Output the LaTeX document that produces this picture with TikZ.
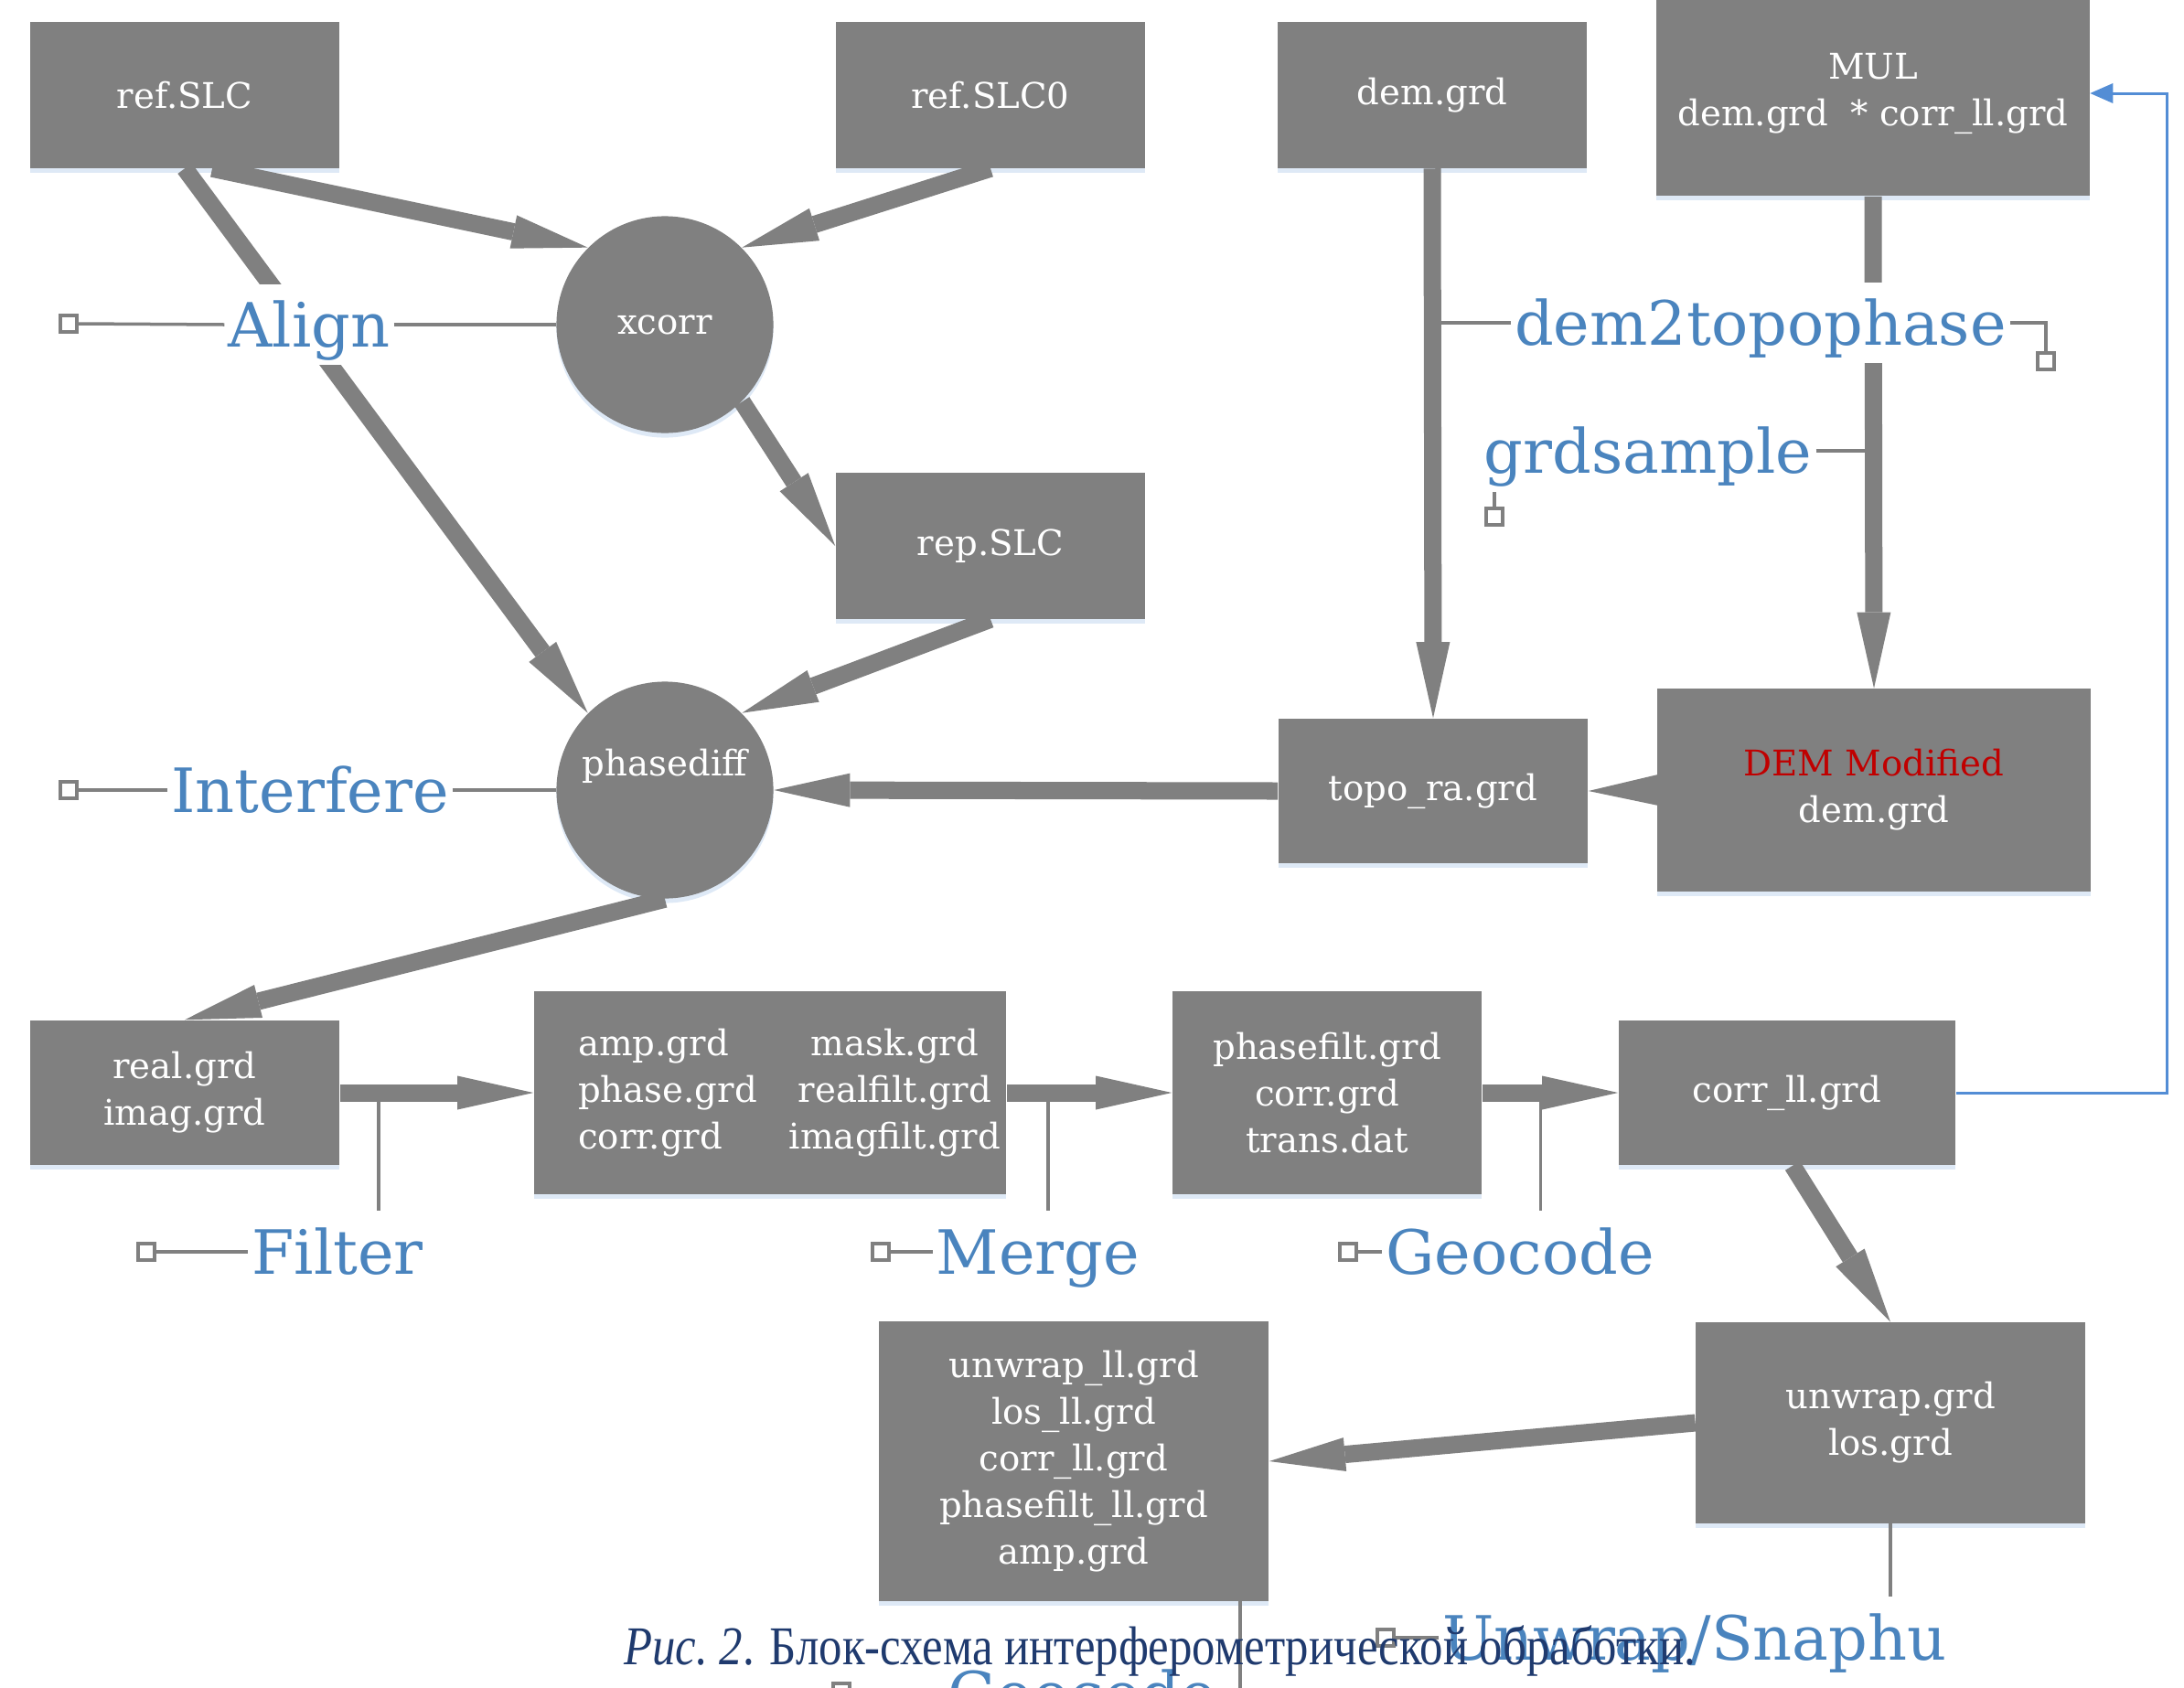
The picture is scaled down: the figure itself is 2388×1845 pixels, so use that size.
\documentclass[tikz,border=0pt]{standalone}
\usepackage{fontspec}
\setmainfont{DejaVu Serif}
\newfontfamily\capfont[FakeStretch=0.85]{Liberation Serif}
\usetikzlibrary{arrows.meta, shadows, calc}
\definecolor{boxgray}{RGB}{128,128,128}
\definecolor{toolblue}{RGB}{74,132,190}
\definecolor{linkblue}{RGB}{83,141,213}
\definecolor{demred}{RGB}{192,0,0}
\definecolor{capblue}{RGB}{31,58,110}
\definecolor{glow}{RGB}{214,228,244}
\tikzset{
flowArrow/.style={draw=boxgray, line width=0.19cm,
    -{Triangle[length=0.83cm, width=0.37cm, line width=0pt]}},
backLink/.style={draw=linkblue, line width=0.03cm,
    -{Triangle[length=0.25cm, width=0.22cm, line width=0pt]}}}

\begin{document}
\begin{tikzpicture}[x=0.01cm, y=-0.01cm]
		\tikzset{fileBox/.style = {rectangle, fill=boxgray, text=white, inner sep=0pt, align=center,
			font=\fontsize{11}{14.5}\selectfont,
			drop shadow={shadow xshift=0cm, shadow yshift=-0.05cm, fill=glow, opacity=0.8}}}
		\tikzset{procDisc/.style = {circle, fill=boxgray, text=white, inner sep=0pt, minimum size=2.37cm,
			font=\fontsize{11}{14.5}\selectfont,
			drop shadow={shadow xshift=0cm, shadow yshift=-0.05cm, fill=glow, opacity=0.8}}}
		\tikzset{toolLabel/.style = {text=toolblue, fill=white, inner sep=1pt,
			text height=18.4pt, text depth=4.75pt, font=\fontsize{19}{23}\selectfont}}
		\tikzset{tieLine/.style = {draw=boxgray, line width=0.035cm}}
		\tikzset{plugBox/.style = {rectangle, draw=boxgray, line width=0.04cm, fill=white,
			minimum size=0.18cm, inner sep=0pt}}

		\useasboundingbox (0,0) rectangle (2388,1845);
		\clip (0,0) rectangle (2388,1845);

		% files and steps
		\node[fileBox, minimum width=3.37cm, minimum height=1.59cm] (ref_SLC) at (202,104) {ref.SLC};
		\node[fileBox, minimum width=3.38cm, minimum height=1.59cm] (ref_SLC0) at (1083,104) {ref.SLC0};
		\node[fileBox, minimum width=3.38cm, minimum height=1.59cm] (dem_grd) at (1566,104) {dem.grd};
		\node[fileBox, minimum width=4.73cm, minimum height=2.24cm] (mul) at (2048,102) {MUL\\dem.grd~~* corr\_ll.grd};
		\node[procDisc] (xcorr) at (727,355) {xcorr};
		\node[fileBox, minimum width=3.38cm, minimum height=1.59cm] (rep_SLC) at (1083,597) {rep.SLC};
		\node[procDisc, text depth=0.61cm] (phasediff) at (727,864) {phasediff};
		\node[fileBox, minimum width=3.38cm, minimum height=1.58cm] (topo_ra) at (1567,865) {topo\_ra.grd};
		\node[fileBox, minimum width=4.73cm, minimum height=2.21cm] (dem_mod) at (2049,864) {\textcolor{demred}{DEM Modified}\\dem.grd};
		\node[fileBox, minimum width=3.38cm, minimum height=1.58cm] (real_grd) at (202,1195) {real.grd\\imag.grd};
		\node[fileBox, minimum width=5.16cm, minimum height=2.21cm] (amp_grd) at (842,1195)
			{\begin{tabular}{@{\hspace{0.42cm}}l@{\hspace{0.35cm}}c@{}}amp.grd & mask.grd\\ phase.grd & realfilt.grd\\ corr.grd & imagfilt.grd\end{tabular}};
		\node[fileBox, minimum width=3.38cm, minimum height=2.21cm] (phasefilt) at (1451,1195) {phasefilt.grd\\corr.grd\\trans.dat};
		\node[fileBox, minimum width=3.68cm, minimum height=1.58cm] (corr_ll) at (1954,1195) {corr\_ll.grd};
		\node[fileBox, minimum width=4.25cm, minimum height=2.19cm] (unwrap) at (2067,1556) {unwrap.grd\\los.grd};
		\node[fileBox, minimum width=4.26cm, minimum height=3.05cm] (unwrap_ll) at (1174,1598)
			{unwrap\_ll.grd\\los\_ll.grd\\corr\_ll.grd\\phasefilt\_ll.grd\\amp.grd};

		% data flow
		\draw[flowArrow] ([xshift=0.3cm]ref_SLC.south) to (xcorr.135);
		\draw[flowArrow] (ref_SLC.south) to (phasediff.135);
		\draw[flowArrow] (ref_SLC0.south) to (xcorr.45);
		\draw[flowArrow] (xcorr.-45) to (rep_SLC.west);
		\draw[flowArrow] (rep_SLC.south) to (phasediff.45);
		\draw[flowArrow] (topo_ra.west) to (phasediff.east);
		\draw[flowArrow] (dem_mod.west) to (topo_ra.east);
		\draw[flowArrow] (dem_grd.south) to (topo_ra.north);
		\draw[flowArrow] (mul.south) to (dem_mod.north);
		\draw[flowArrow] (phasediff.south) to (real_grd.north);
		\draw[flowArrow] (real_grd.east) to (amp_grd.west);
		\draw[flowArrow] (amp_grd.east) to (phasefilt.west);
		\draw[flowArrow] (phasefilt.east) to (corr_ll.west);
		\draw[flowArrow] ([xshift=0.06cm]corr_ll.south) to (unwrap.north);
		\draw[flowArrow] (unwrap.west) to (unwrap_ll.east);
		\draw[backLink] (corr_ll.east) -- ++(231,0) |- (mul.east);

		% GMTSAR commands
		\node[toolLabel] (align) at (338,355) {Align};
		\node[toolLabel] (interfere) at (339,864) {Interfere};
		\node[toolLabel] (filter) at (369,1369) {Filter};
		\node[toolLabel] (merge) at (1135,1369) {Merge};
		\node[toolLabel] (geocode) at (1662,1369) {Geocode};
		\node[toolLabel] (dem2topo) at (1925,353) {dem2topophase};
		\node[toolLabel] (grdsample) at (1802,493) {grdsample};
		\node[toolLabel] (snaphu) at (1853,1791) {Unwrap/Snaphu};
		\node[toolLabel] (geocode_ll) at (1183,1852) {Geocode};

		\node[plugBox] (align_plug) at (75,354) {};
		\node[plugBox] (interfere_plug) at (75,864) {};
		\node[plugBox] (filter_plug) at (160,1369) {};
		\node[plugBox] (merge_plug) at (963,1369) {};
		\node[plugBox] (geocode_plug) at (1474,1369) {};
		\node[plugBox] (dem2topo_plug) at (2237,395) {};
		\node[plugBox] (grdsample_plug) at (1634,565) {};
		\node[plugBox] (snaphu_plug) at (1515,1791) {};
		\node[plugBox] (geocode_ll_plug) at (920,1850) {};

		\coordinate (filter_tap) at ($(real_grd.east)!0.2!(amp_grd.west)$);
		\coordinate (merge_tap) at ($(amp_grd.east)!0.25!(phasefilt.west)$);
		\coordinate (geocode_tap) at ($(phasefilt.east)!0.43!(corr_ll.west)$);

		\draw[tieLine] (align_plug.east) -- (align.west);
		\draw[tieLine] (align.east) -- (xcorr.west);
		\draw[tieLine] (interfere_plug.east) -- (interfere.west);
		\draw[tieLine] (interfere.east) -- (phasediff.west);
		\draw[tieLine] (filter_plug.east) -- (filter.west);
		\draw[tieLine] (filter_tap) -- (filter_tap |- filter.north);
		\draw[tieLine] (merge_plug.east) -- (merge.west);
		\draw[tieLine] (merge_tap) -- (merge_tap |- merge.north);
		\draw[tieLine] (geocode_plug.east) -- (geocode.west);
		\draw[tieLine] (geocode_tap) -- (geocode_tap |- geocode.north);
		\draw[tieLine] (dem_grd.south |- dem2topo.west) -- (dem2topo.west);
		\draw[tieLine] (dem2topo.east) -| (dem2topo_plug.north);
		\draw[tieLine] (grdsample.east) -- (grdsample.east -| mul.south);
		\draw[tieLine] (grdsample_plug.north) -- (grdsample_plug.north |- grdsample.south);
		\draw[tieLine] (snaphu_plug.east) -- (snaphu.west);
		\draw[tieLine] (unwrap.south) -- (unwrap.south |- snaphu.north);
		\draw[tieLine] (geocode_ll_plug.east) -- (geocode_ll.west);
		\draw[tieLine] ([xshift=-0.32cm]unwrap_ll.south east) -- ++(0,150);

		% caption
		\node[anchor=base west, text=capblue, font=\capfont\fontsize{17}{20}\selectfont] (caption) at (670,1820)
			{\textit{Рис.~2}. Блок-схема интерферометрической обработки.};
	\end{tikzpicture}
\end{document}
